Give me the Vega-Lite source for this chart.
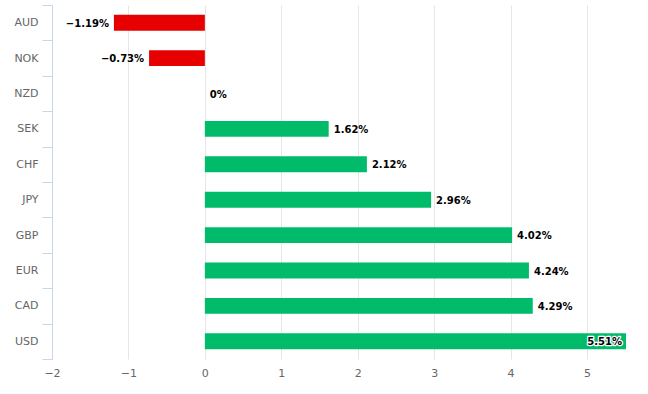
{
  "$schema": "https://vega.github.io/schema/vega-lite/v6.json",
  "width": 574,
  "height": 354,
  "autosize": {"type": "none"},
  "padding": {"left": 52, "top": 5, "right": 22, "bottom": 35},
  "background": "white",
  "config": {
    "view": {"stroke": null},
    "font": "DejaVu Sans"
  },
  "data": {
    "values": [
      {"currency": "AUD", "value": -1.19},
      {"currency": "NOK", "value": -0.73},
      {"currency": "NZD", "value": 0},
      {"currency": "SEK", "value": 1.62},
      {"currency": "CHF", "value": 2.12},
      {"currency": "JPY", "value": 2.96},
      {"currency": "GBP", "value": 4.02},
      {"currency": "EUR", "value": 4.24},
      {"currency": "CAD", "value": 4.29},
      {"currency": "USD", "value": 5.51}
    ]
  },
  "transform": [
    {"calculate": "format(datum.value, '.2~f') + '%'", "as": "label"}
  ],
  "encoding": {
    "y": {
      "field": "currency",
      "type": "nominal",
      "sort": null,
      "title": null,
      "scale": {"paddingInner": 0, "paddingOuter": 0},
      "axis": {
        "tickBand": "extent",
        "domainColor": "#ccd6eb",
        "tickColor": "#ccd6eb",
        "tickSize": 10,
        "labelPadding": 4,
        "labelColor": "#666666",
        "labelFontSize": 11,
        "labelFont": "DejaVu Sans",
        "grid": false
      }
    },
    "x": {
      "field": "value",
      "type": "quantitative",
      "title": null,
      "scale": {"domain": [-2, 5.51], "nice": false, "zero": false},
      "axis": {
        "values": [-2, -1, 0, 1, 2, 3, 4, 5],
        "domain": false,
        "ticks": false,
        "grid": true,
        "gridColor": "#e6e6e6",
        "labelColor": "#666666",
        "labelFontSize": 11,
        "labelFont": "DejaVu Sans",
        "labelFlush": false,
        "labelPadding": 8
      }
    }
  },
  "layer": [
    {
      "mark": {"type": "bar", "height": {"band": 0.45}},
      "encoding": {
        "x": {"field": "value", "type": "quantitative"},
        "x2": {"datum": 0},
        "color": {
          "condition": {"test": "datum.value < 0", "value": "#e60000"},
          "value": "#00bc6a"
        }
      }
    },
    {
      "transform": [{"filter": "datum.value >= 0 && datum.value < 5"}],
      "mark": {"type": "text", "align": "left", "dx": 5, "dy": 1, "fontWeight": "bold", "fontSize": 10, "color": "#000000"},
      "encoding": {"text": {"field": "label"}}
    },
    {
      "transform": [{"filter": "datum.value < 0"}],
      "mark": {"type": "text", "align": "right", "dx": -5, "dy": 1, "fontWeight": "bold", "fontSize": 10, "color": "#000000"},
      "encoding": {"text": {"field": "label"}}
    },
    {
      "transform": [{"filter": "datum.value >= 5"}],
      "mark": {"type": "text", "align": "right", "dx": -4, "dy": 1, "fontWeight": "bold", "fontSize": 10, "color": "#000000", "stroke": "#ffffff", "strokeWidth": 2.5, "strokeJoin": "round"},
      "encoding": {"text": {"field": "label"}}
    },
    {
      "transform": [{"filter": "datum.value >= 5"}],
      "mark": {"type": "text", "align": "right", "dx": -4, "dy": 1, "fontWeight": "bold", "fontSize": 10, "color": "#000000"},
      "encoding": {"text": {"field": "label"}}
    }
  ]
}
